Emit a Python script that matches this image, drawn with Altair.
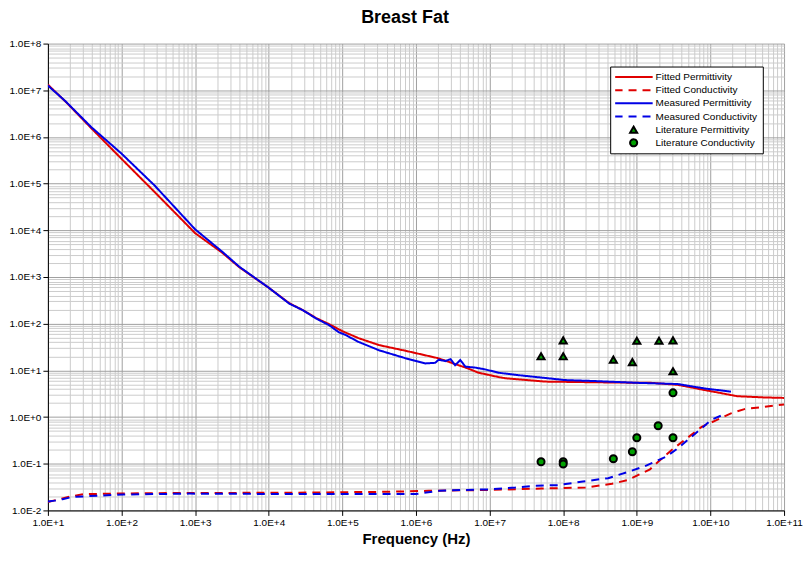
import altair as alt
import pandas as pd

# ---------------- data ----------------
series = ["Fitted Permittivity", "Fitted Conductivity", "Measured Permittivity",
          "Measured Conductivity", "Literature Permittivity", "Literature Conductivity"]

fit_perm_f = [10, 17.8, 39.8, 100, 282, 1000, 2340, 3980, 1e4, 1.9e4, 2.9e4, 4.4e4, 6.6e4,
              1e5, 1.66e5, 3.16e5, 7.2e5, 2.0e6, 4.7e6, 7.1e6, 1.32e7, 1.62e7, 5.6e7,
              4.6e8, 1.58e9, 3.6e9, 8.3e9, 2.3e10, 5.4e10, 1e11]
fit_perm_v = [1.32e7, 5.5e6, 1.48e6, 3.4e5, 6.6e4, 8700, 3300, 1620, 589, 275, 195, 132, 98,
              69, 49, 34.7, 26.3, 18.2, 11.5, 8.9, 7.2, 6.8, 5.75,
              5.5, 5.4, 4.9, 3.8, 2.8, 2.63, 2.57]

meas_perm_f = [10, 17, 38.9, 100, 282, 1000, 2340, 3980, 1e4, 1.9e4, 2.9e4, 4.4e4, 6.6e4,
               8.9e4, 1.1e5, 1.66e5, 3.16e5, 7.2e5, 1.35e6, 1.82e6, 2.04e6, 2.5e6, 2.95e6,
               3.4e6, 4.0e6, 4.7e6, 6.3e6, 8.7e6, 1.32e7, 2.45e7, 5.6e7, 1.05e8, 2.7e8,
               1.05e9, 3.6e9, 8.3e9, 1.9e10]
meas_perm_v = [1.26e7, 6.0e6, 1.62e6, 4.4e5, 9.1e4, 1.05e4, 3470, 1660, 589, 269, 195, 129, 93,
               66, 57.5, 40.7, 26.9, 18.2, 14.1, 14.5, 17.0, 15.8, 17.4,
               12.9, 16.6, 12.0, 11.5, 10.5, 8.9, 7.9, 6.9, 6.2, 5.9,
               5.4, 5.1, 4.1, 3.5]

fit_cond_f = [10, 15.1, 21.9, 31.6, 214, 2.57e4, 4.27e5, 1.48e6, 9.8e6, 5.1e7, 2.0e8, 4.6e8,
              7.6e8, 1.05e9, 1.51e9, 1.95e9, 2.95e9, 4.47e9, 7.6e9, 1.15e10, 1.9e10, 2.9e10,
              5.4e10, 1e11]
fit_cond_v = [0.0151, 0.0178, 0.0204, 0.0224, 0.0234, 0.024, 0.0251, 0.0263, 0.0275, 0.0295,
              0.0309, 0.0372, 0.0447, 0.0575, 0.0759, 0.110, 0.195, 0.324, 0.617, 0.83, 1.2,
              1.48, 1.66, 1.86]

meas_cond_f = [10, 12.3, 15.8, 21.9, 56, 105, 832, 2.57e4, 9.8e5, 2.04e6, 4.7e6, 9.8e6, 2.24e7,
               4.17e7, 8.5e7, 1.86e8, 4.07e8, 8.5e8, 1.29e9, 1.74e9, 2.5e9, 3.6e9, 5.2e9,
               7.6e9, 1.02e10, 1.55e10]
meas_cond_v = [0.0155, 0.0162, 0.0174, 0.0195, 0.0209, 0.0219, 0.0229, 0.0224, 0.0224, 0.0263,
               0.0275, 0.0282, 0.0309, 0.0339, 0.0347, 0.0417, 0.049, 0.0708, 0.089, 0.11,
               0.141, 0.214, 0.347, 0.575, 0.871, 1.15]

lit_perm_f = [5e7, 1e8, 1e8, 4.8e8, 8.7e8, 1e9, 2e9, 3.1e9, 3.1e9]
lit_perm_v = [20, 44, 20, 17, 15, 43, 43, 44, 9.6]

lit_cond_f = [5e7, 1e8, 1e8, 4.8e8, 8.7e8, 1e9, 1.95e9, 3.1e9, 3.1e9]
lit_cond_v = [0.11, 0.11, 0.099, 0.128, 0.181, 0.36, 0.65, 3.3, 0.36]

x_ticks = [float(f"{m}e{k}") for k in range(1, 11) for m in range(1, 10)] + [1e11]
y_ticks = [float(f"{m}e{k}") for k in range(-2, 8) for m in range(1, 10)] + [1e8]

# ---------------- tables ----------------
line_rows = []
for name, fs, vs in [(series[0], fit_perm_f, fit_perm_v), (series[1], fit_cond_f, fit_cond_v),
                     (series[2], meas_perm_f, meas_perm_v), (series[3], meas_cond_f, meas_cond_v)]:
    for f, v in zip(fs, vs):
        line_rows.append({"series": name, "freq": f, "value": v})
lines_df = pd.DataFrame(line_rows)

pt_rows = []
for name, fs, vs in [(series[4], lit_perm_f, lit_perm_v), (series[5], lit_cond_f, lit_cond_v)]:
    for f, v in zip(fs, vs):
        pt_rows.append({"series": name, "freq": f, "value": v})
pts_df = pd.DataFrame(pt_rows)

# ---------------- styling ----------------
RED = "#e00000"
BLUE = "#0000e6"
GREEN = "#00a000"
FONT = "Liberation Sans"
LINE_SYM = "M-5.4,0H5.4"

stroke_scale = alt.Scale(domain=series, range=[RED, RED, BLUE, BLUE, "black", "black"])
dash_scale = alt.Scale(domain=series, range=[[1, 0], [8, 6], [1, 0], [8, 6], [1, 0], [1, 0]])
shape_scale = alt.Scale(domain=series, range=[LINE_SYM] * 4 + ["triangle-up", "circle"])
fill_scale = alt.Scale(domain=series, range=["transparent"] * 4 + [GREEN, GREEN])
sw_scale = alt.Scale(domain=series, range=[2, 2, 2, 2, 1, 1])

leg = alt.Legend(title=None)

major = "abs(log(datum.value)/LN10 - round(log(datum.value)/LN10)) < 0.001"
label_expr = f"({major}) ? replace(format(datum.value, '.1e'), 'e', 'E') : ''"
grid_color = {"condition": {"test": major, "value": "#a0a0a0"}, "value": "#cccccc"}
tick_op = {"condition": {"test": major, "value": 1}, "value": 0}

xscale = alt.Scale(type="log", domain=[1e1, 1e11], nice=False)
yscale = alt.Scale(type="log", domain=[1e-2, 1e8], nice=False)

xaxis = alt.Axis(values=x_ticks, labelExpr=label_expr, gridColor=grid_color,
                 tickOpacity=tick_op, labelOverlap=False, labelFlush=False, labelPadding=2,
                 title="Frequency (Hz)", titleFont=FONT, titleFontSize=15,
                 titleFontWeight="bold", titleColor="black", titlePadding=4)
yaxis = alt.Axis(values=y_ticks, labelExpr=label_expr, gridColor=grid_color,
                 tickOpacity=tick_op, labelOverlap=False, labelFlush=False,
                 labelPadding=2, title=None)

lines = alt.Chart(lines_df).mark_line(clip=True).encode(
    x=alt.X("freq:Q", scale=xscale, axis=xaxis),
    y=alt.Y("value:Q", scale=yscale, axis=yaxis),
    stroke=alt.Stroke("series:N", scale=stroke_scale, legend=leg),
    strokeDash=alt.StrokeDash("series:N", scale=dash_scale, legend=leg),
    strokeWidth=alt.StrokeWidth("series:N", scale=sw_scale, legend=leg),
)

points = alt.Chart(pts_df).mark_point(filled=True, size=50, opacity=1).encode(
    x=alt.X("freq:Q", scale=xscale, axis=xaxis),
    y=alt.Y("value:Q", scale=yscale, axis=yaxis),
    stroke=alt.Stroke("series:N", scale=stroke_scale, legend=leg),
    fill=alt.Fill("series:N", scale=fill_scale, legend=leg),
    shape=alt.Shape("series:N", scale=shape_scale, legend=leg),
    strokeWidth=alt.StrokeWidth("series:N", scale=sw_scale, legend=leg),
)

chart = alt.layer(lines, points).properties(
    width=738,
    height=468,
    autosize=alt.AutoSizeParams(type="none"),
    padding={"left": 40, "top": 35, "right": 20, "bottom": 40},
    background="white",
    title=alt.TitleParams("Breast Fat", font=FONT, fontSize=18, fontWeight="bold",
                          color="black", anchor="middle", dx=-11, offset=12),
).configure_view(
    strokeWidth=0
).configure_axis(
    labelFont=FONT, labelFontSize=10, labelColor="black",
    tickColor="black", tickSize=5, domainColor="black", domainWidth=1,
    gridWidth=1,
).configure_legend(
    orient="none", legendX=563.7, legendY=23,
    fillColor="white", strokeColor="black", padding=5,
    labelFont=FONT, labelFontSize=10, labelColor="black",
    symbolSize=50, symbolOffset=13.5, labelOffset=17, clipHeight=11, rowPadding=2.2,
)

chart.save("out.html", embed_options={"renderer": "svg", "actions": False})
